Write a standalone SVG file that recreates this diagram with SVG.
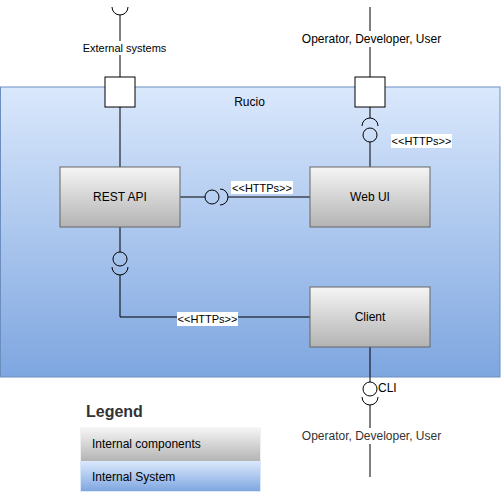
<svg xmlns="http://www.w3.org/2000/svg" width="501" height="494" viewBox="0 0 501 494">
<defs>
<linearGradient id="gBlue" x1="0" y1="0" x2="0" y2="1"><stop offset="0" stop-color="#dae8fc"/><stop offset="1" stop-color="#7ea6e0"/></linearGradient>
<linearGradient id="gGray" x1="0" y1="0" x2="0" y2="1"><stop offset="0" stop-color="#f5f5f5"/><stop offset="1" stop-color="#b3b3b3"/></linearGradient>
</defs>
<style>
text{font-family:"Liberation Sans",Arial,sans-serif;fill:#000}
.sys{fill:url(#gBlue);stroke:#6c8ebf;stroke-width:1}
.comp{fill:url(#gGray);stroke:#666666;stroke-width:1}
.port{fill:#ffffff;stroke:#000;stroke-width:1}
.ln{fill:none;stroke:#000;stroke-width:1}
.lbl{fill:#ffffff;stroke:none}
.c12{font-size:12px;text-anchor:middle;dominant-baseline:central}
.c11{font-size:11px;text-anchor:middle;dominant-baseline:central}
.l12{font-size:12px;dominant-baseline:central}
</style>
<g id="rucio">
<rect class="sys" x="0.5" y="87" width="499.5" height="290"/>
<text class="c12" x="249.5" y="102">Rucio</text>
</g>
<g id="connectors">
<!-- external systems -->
<path class="ln" d="M112,7 A8,8 0 0 0 128,7"/>
<line class="ln" x1="120" y1="15" x2="120" y2="77"/>
<rect class="lbl" x="82" y="41" width="85" height="14"/>
<text class="c11" x="124.5" y="48">External systems</text>
<line class="ln" x1="120" y1="107" x2="120" y2="167"/>
<!-- operator top -->
<line class="ln" x1="370" y1="7" x2="370" y2="77"/>
<rect class="lbl" x="300" y="31" width="143" height="16"/>
<text class="c12" x="371.5" y="39">Operator, Developer, User</text>
<line class="ln" x1="370" y1="107" x2="370" y2="118"/>
<path class="ln" d="M362,126 A8,8 0 0 1 378,126"/>
<circle class="ln" cx="370" cy="135" r="7"/>
<line class="ln" x1="370" y1="142" x2="370" y2="167"/>
<rect class="lbl" x="391" y="134" width="61" height="14"/>
<text class="c11" x="421.5" y="141">&lt;&lt;HTTPs&gt;&gt;</text>
<!-- REST - Web UI -->
<line class="ln" x1="180" y1="197" x2="205" y2="197"/>
<circle class="ln" cx="212" cy="197" r="7"/>
<path class="ln" d="M220,189 A8,8 0 0 1 220,205"/>
<line class="ln" x1="228" y1="197" x2="310" y2="197"/>
<rect class="lbl" x="231" y="181" width="62" height="13"/>
<text class="c11" x="262" y="187.5">&lt;&lt;HTTPs&gt;&gt;</text>
<!-- REST - Client -->
<line class="ln" x1="120" y1="227" x2="120" y2="252"/>
<circle class="ln" cx="120" cy="259" r="7"/>
<path class="ln" d="M112,267 A8,8 0 0 0 128,267"/>
<polyline class="ln" points="120,275 120,317 310,317"/>
<rect class="lbl" x="177" y="312" width="61" height="14"/>
<text class="c11" x="207.5" y="319">&lt;&lt;HTTPs&gt;&gt;</text>
<!-- Client - CLI -->
<line class="ln" x1="370" y1="347" x2="370" y2="382"/>
<circle class="ln" cx="370" cy="389" r="7"/>
<path class="ln" d="M362,397 A8,8 0 0 0 378,397"/>
<line class="ln" x1="370" y1="405" x2="370" y2="477"/>
<text class="l12" x="378" y="388">CLI</text>
<rect class="lbl" x="300" y="428" width="143" height="16"/>
<text class="c12" x="371.5" y="436" style="fill:#333333">Operator, Developer, User</text>
</g>
<g id="port-external"><rect class="port" x="105" y="77" width="30" height="30"/></g>
<g id="port-operator"><rect class="port" x="355" y="77" width="30" height="30"/></g>
<g id="rest-api">
<rect class="comp" x="60" y="167" width="120" height="60"/>
<text class="c12" x="120" y="197">REST API</text>
</g>
<g id="web-ui">
<rect class="comp" x="310" y="167" width="120" height="60"/>
<text class="c12" x="370" y="197">Web UI</text>
</g>
<g id="client">
<rect class="comp" x="310" y="287" width="120" height="60"/>
<text class="c12" x="370" y="317">Client</text>
</g>
<g id="legend">
<text x="86" y="411" style="font-size:16px;font-weight:bold;fill:#333333;dominant-baseline:central">Legend</text>
<rect x="80.5" y="428" width="180" height="33.5" fill="url(#gGray)" stroke="#f0f0f0"/>
<text class="l12" x="92" y="444">Internal components</text>
<rect x="80.5" y="461.5" width="180" height="30" fill="url(#gBlue)" stroke="#dae8fc"/>
<text class="l12" x="92" y="477">Internal System</text>
</g>
</svg>
